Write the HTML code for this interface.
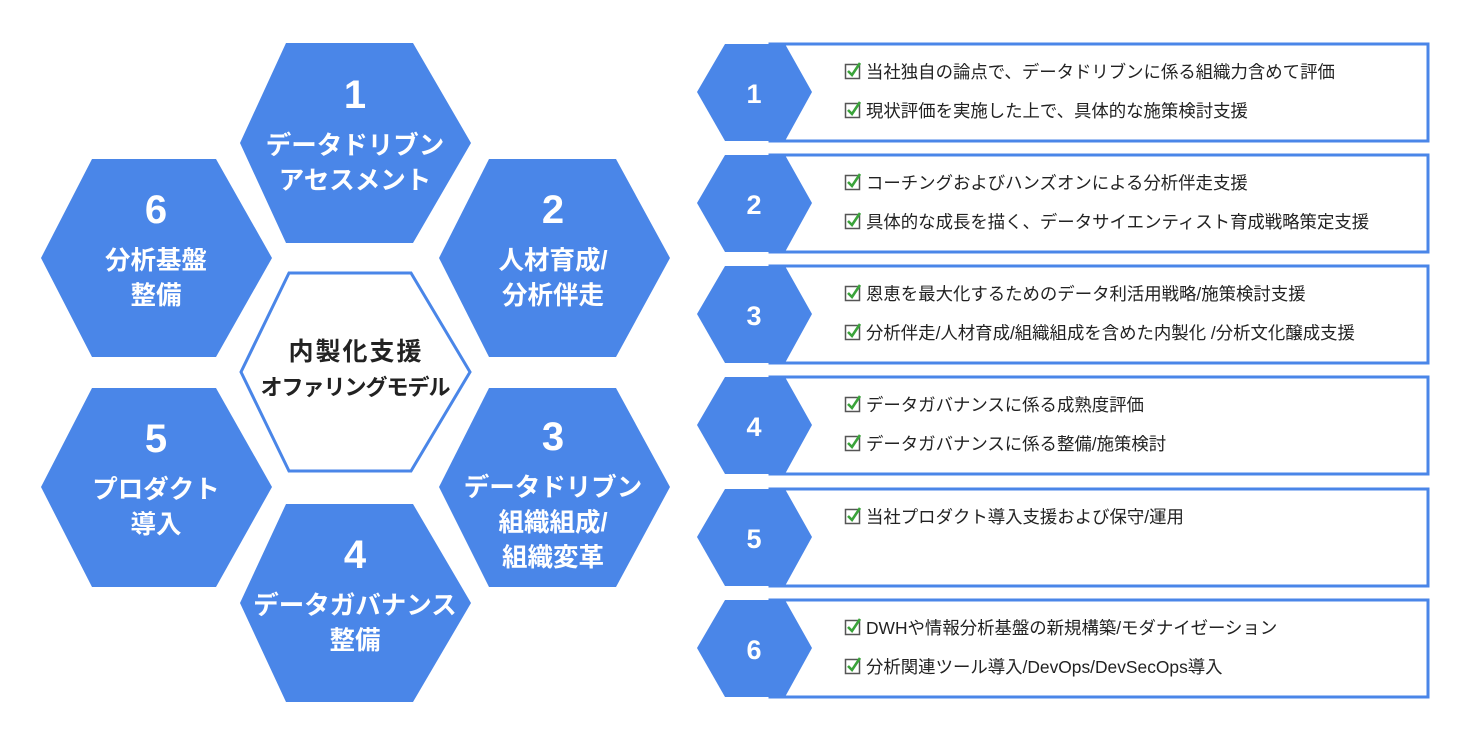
<!DOCTYPE html>
<html><head><meta charset="utf-8"><style>
body{margin:0;background:#fff}
svg{display:block}
text{font-family:"Liberation Sans","Noto Sans CJK JP",sans-serif}
</style></head><body>
<svg width="1472" height="739" viewBox="0 0 1472 739" xmlns="http://www.w3.org/2000/svg">
<defs>
<g id="chk"><rect x="0.5" y="0.5" width="14" height="14" fill="#fff" stroke="#555" stroke-width="1.5"/><path d="M3 7 L7 11 L15 -1" fill="none" stroke="#3aa33a" stroke-width="2.6"/></g>
</defs>
<g fill="#4a86e8">
<polygon points="286,43 413,43 471,143 413,243 286,243 240,143"/>
<polygon points="92,159 216,159 272,258 216,357 92,357 41,258"/>
<polygon points="489,159 616,159 670,258 616,357 489,357 439,258"/>
<polygon points="92,388 216,388 272,487 216,587 92,587 41,487"/>
<polygon points="489,388 616,388 670,487 616,587 489,587 439,487"/>
<polygon points="286,504 413,504 471,603 413,702 286,702 240,603"/>
</g>
<polygon points="289,273 411,273 470,372 411,471 289,471 241,372" fill="#fff" stroke="#4a86e8" stroke-width="3"/>
<g fill="#fff" font-weight="bold" text-anchor="middle">
<text x="355" y="108" font-size="40">1</text>
<text x="355" y="154" font-size="25.5">データドリブン</text>
<text x="355" y="189" font-size="25.5">アセスメント</text>
<text x="156" y="223" font-size="40">6</text>
<text x="156" y="269" font-size="25.5">分析基盤</text>
<text x="156" y="304" font-size="25.5">整備</text>
<text x="553" y="223" font-size="40">2</text>
<text x="553" y="269" font-size="25.5">人材育成/</text>
<text x="553" y="304" font-size="25.5">分析伴走</text>
<text x="156" y="452" font-size="40">5</text>
<text x="156" y="498" font-size="25.5">プロダクト</text>
<text x="156" y="533" font-size="25.5">導入</text>
<text x="553" y="450" font-size="40">3</text>
<text x="553" y="496" font-size="25.5">データドリブン</text>
<text x="553" y="531" font-size="25.5">組織組成/</text>
<text x="553" y="566" font-size="25.5">組織変革</text>
<text x="355" y="568" font-size="40">4</text>
<text x="355" y="614" font-size="25.5">データガバナンス</text>
<text x="355" y="649" font-size="25.5">整備</text>
</g>
<g fill="#222" font-weight="bold" text-anchor="middle">
<text x="356" y="360" font-size="25" letter-spacing="2">内製化支援</text>
<text x="355" y="395" font-size="22" letter-spacing="-1">オファリングモデル</text>
</g>
<g id="rows" font-size="17.4" fill="#222">
<g transform="translate(0,44)">
<rect x="770" y="0" width="658" height="97" fill="#fff" stroke="#4a86e8" stroke-width="3"/>
<polygon points="697,48 725,0 785,0 812,48 785,97 725,97" fill="#4a86e8"/>
<text x="754" y="59" fill="#fff" font-size="27" font-weight="bold" text-anchor="middle">1</text>
<use href="#chk" x="845" y="20"/><text x="866" y="34">当社独自の論点で、データドリブンに係る組織力含めて評価</text>
<use href="#chk" x="845" y="59"/><text x="866" y="73">現状評価を実施した上で、具体的な施策検討支援</text>
</g>
<g transform="translate(0,155)">
<rect x="770" y="0" width="658" height="97" fill="#fff" stroke="#4a86e8" stroke-width="3"/>
<polygon points="697,48 725,0 785,0 812,48 785,97 725,97" fill="#4a86e8"/>
<text x="754" y="59" fill="#fff" font-size="27" font-weight="bold" text-anchor="middle">2</text>
<use href="#chk" x="845" y="20"/><text x="866" y="34">コーチングおよびハンズオンによる分析伴走支援</text>
<use href="#chk" x="845" y="59"/><text x="866" y="73">具体的な成長を描く、データサイエンティスト育成戦略策定支援</text>
</g>
<g transform="translate(0,266)">
<rect x="770" y="0" width="658" height="97" fill="#fff" stroke="#4a86e8" stroke-width="3"/>
<polygon points="697,48 725,0 785,0 812,48 785,97 725,97" fill="#4a86e8"/>
<text x="754" y="59" fill="#fff" font-size="27" font-weight="bold" text-anchor="middle">3</text>
<use href="#chk" x="845" y="20"/><text x="866" y="34">恩恵を最大化するためのデータ利活用戦略/施策検討支援</text>
<use href="#chk" x="845" y="59"/><text x="866" y="73">分析伴走/人材育成/組織組成を含めた内製化 /分析文化醸成支援</text>
</g>
<g transform="translate(0,377)">
<rect x="770" y="0" width="658" height="97" fill="#fff" stroke="#4a86e8" stroke-width="3"/>
<polygon points="697,48 725,0 785,0 812,48 785,97 725,97" fill="#4a86e8"/>
<text x="754" y="59" fill="#fff" font-size="27" font-weight="bold" text-anchor="middle">4</text>
<use href="#chk" x="845" y="20"/><text x="866" y="34">データガバナンスに係る成熟度評価</text>
<use href="#chk" x="845" y="59"/><text x="866" y="73">データガバナンスに係る整備/施策検討</text>
</g>
<g transform="translate(0,489)">
<rect x="770" y="0" width="658" height="97" fill="#fff" stroke="#4a86e8" stroke-width="3"/>
<polygon points="697,48 725,0 785,0 812,48 785,97 725,97" fill="#4a86e8"/>
<text x="754" y="59" fill="#fff" font-size="27" font-weight="bold" text-anchor="middle">5</text>
<use href="#chk" x="845" y="20"/><text x="866" y="34">当社プロダクト導入支援および保守/運用</text>
</g>
<g transform="translate(0,600)">
<rect x="770" y="0" width="658" height="97" fill="#fff" stroke="#4a86e8" stroke-width="3"/>
<polygon points="697,48 725,0 785,0 812,48 785,97 725,97" fill="#4a86e8"/>
<text x="754" y="59" fill="#fff" font-size="27" font-weight="bold" text-anchor="middle">6</text>
<use href="#chk" x="845" y="20"/><text x="866" y="34">DWHや情報分析基盤の新規構築/モダナイゼーション</text>
<use href="#chk" x="845" y="59"/><text x="866" y="73">分析関連ツール導入/DevOps/DevSecOps導入</text>
</g>
</g>
</svg>
</body></html>
